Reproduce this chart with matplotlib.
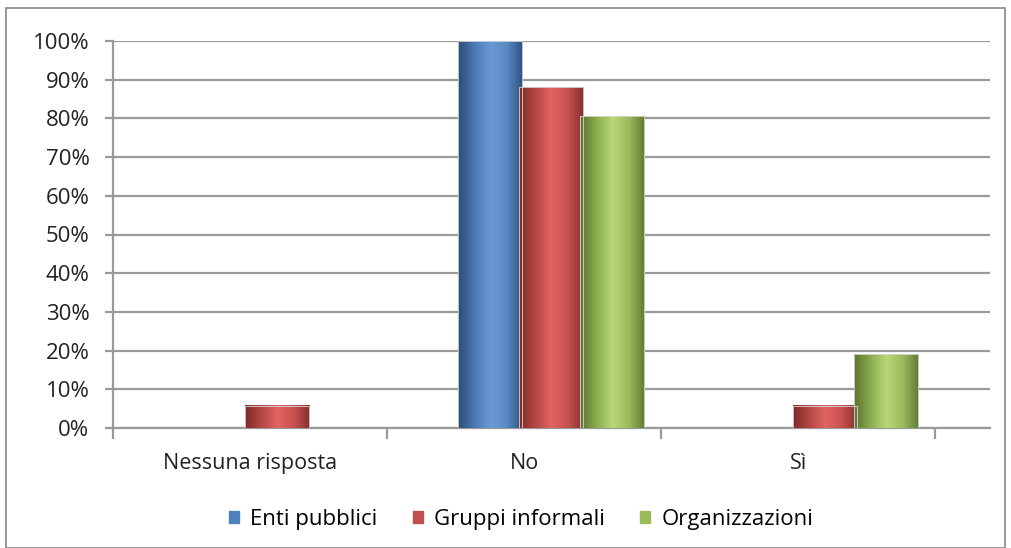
import numpy as np
import matplotlib
matplotlib.use('Agg')
import matplotlib.pyplot as plt
from matplotlib.colors import LinearSegmentedColormap
from matplotlib.patches import Rectangle

categories = ['Nessuna risposta', 'No', 'Sì']
series = ['Enti pubblici', 'Gruppi informali', 'Organizzazioni']
enti = [0, 100, 0]
gruppi = [5.7, 88.1, 5.7]
organizzazioni = [0, 80.6, 19.1]
values = [enti, gruppi, organizzazioni]
yticks = [0, 10, 20, 30, 40, 50, 60, 70, 80, 90, 100]

colors = ['#4F81BD', '#C0504D', '#9BBB59']
shades = [
    ['#2c4d75', '#4a78b0', '#6a9ad6', '#5b8ac6', '#2f5180'],
    ['#7f2a28', '#b44744', '#e06461', '#c9524f', '#85302d'],
    ['#5c7330', '#8aab4c', '#b8d878', '#9cbc5c', '#617a34'],
]

plt.rcParams['font.family'] = ['Open Sans', 'DejaVu Sans']

fig = plt.figure(figsize=(10.11, 5.48), dpi=100)
fig.patches.append(Rectangle((6 / 1011, 0.0), 999 / 1011, 540 / 548, transform=fig.transFigure,
                             fill=False, edgecolor='#868686', linewidth=1.2))
ax = fig.add_axes([113 / 1011, 1 - 428 / 548, 877 / 1011, 387 / 548])

x = np.arange(len(categories))
offsets = [-0.124, 0.099, 0.322]
width = 0.234
grad = np.linspace(0, 1, 200).reshape(1, -1)

for vals, off, sh in zip(values, offsets, shades):
    cmap = LinearSegmentedColormap.from_list('c', sh)
    for xi, v in zip(x, vals):
        if v <= 0:
            continue
        left = xi + off - width / 2
        ax.imshow(grad, cmap=cmap, aspect='auto', extent=(left, left + width, 0, v),
                  zorder=3, interpolation='bicubic')
        ax.add_patch(Rectangle((left, 0), width, v, fill=False, edgecolor='#d8d8d8',
                               linewidth=0.6, zorder=4))

ax.set_xlim(-0.5, 2.7)
ax.set_ylim(0, 100)
ax.set_yticks(yticks)
ax.set_yticklabels([f'{t}%' for t in yticks])
ax.yaxis.grid(True, color='#9a9a9a', linewidth=1.6, zorder=0)
ax.set_axisbelow(True)

ax.set_xticks(x)
ax.set_xticklabels(categories)
ax.tick_params(axis='x', length=0, pad=18, labelsize=15.5, colors='#222222')
ax.set_xticks([-0.5, 0.5, 1.5, 2.5], minor=True)
ax.tick_params(axis='x', which='minor', length=8, width=1.6, color='#9a9a9a')
ax.tick_params(axis='y', length=6, width=1.6, color='#9a9a9a', labelsize=16,
               labelcolor='#222222', pad=11)

for s in ['top', 'right']:
    ax.spines[s].set_visible(False)
ax.spines['left'].set_color('#9a9a9a')
ax.spines['left'].set_linewidth(1.6)
ax.spines['bottom'].set_color('#9a9a9a')
ax.spines['bottom'].set_linewidth(1.6)

handles = [Rectangle((0, 0), 1, 1, color=c) for c in colors]
fig.legend(handles, series, loc='center', bbox_to_anchor=(521 / 1011, 1 - 519 / 548), ncol=3,
           frameon=False, fontsize=16, handlelength=0.45, handleheight=0.45, handletextpad=0.5,
           columnspacing=1.6)

fig.savefig('out.png', dpi=100)
